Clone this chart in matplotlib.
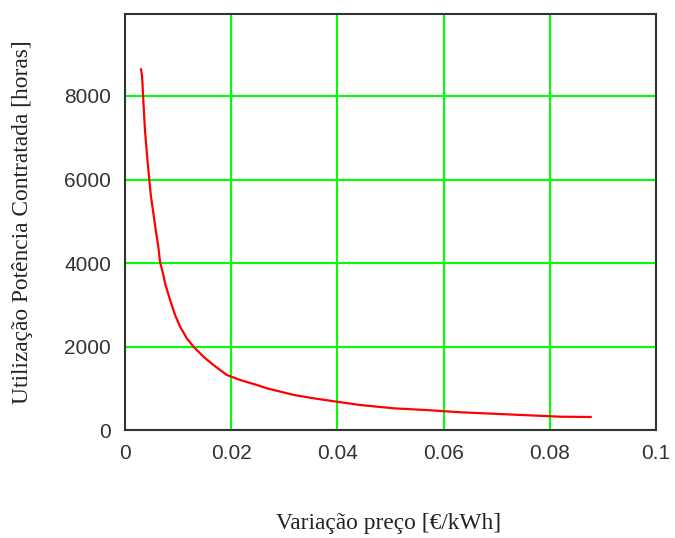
import matplotlib
matplotlib.use('Agg')
import matplotlib.pyplot as plt

# valores
variacao_preco = [0.00302, 0.00321, 0.00345, 0.00377, 0.00428, 0.00485, 0.00534, 0.00579,
                  0.00628, 0.0066, 0.00723, 0.00755, 0.00849, 0.00943, 0.01038, 0.01164,
                  0.0129, 0.01477, 0.01666, 0.01918, 0.0217, 0.02485, 0.02673, 0.0318,
                  0.0355, 0.0399, 0.0443, 0.0506, 0.0566, 0.0632, 0.0717, 0.0821, 0.0877]
utilizacao_horas = [8636, 8481, 7902, 7158, 6395, 5629, 5198, 4792,
                    4385, 4026, 3715, 3517, 3117, 2758, 2478, 2201,
                    2000, 1761, 1562, 1323, 1203, 1084, 1005, 845,
                    766, 684, 605, 526, 486, 431, 383, 325, 318]

x_ticks = [0, 0.02, 0.04, 0.06, 0.08, 0.1]
x_tick_labels = ['0', '0.02', '0.04', '0.06', '0.08', '0.1']
y_ticks = [0, 2000, 4000, 6000, 8000]

fig = plt.figure(figsize=(6.75, 5.38), dpi=100)
ax = fig.add_axes([125 / 675, 1 - 430.3 / 538, (656 - 125) / 675, (430.3 - 14) / 538])

ax.plot(variacao_preco, utilizacao_horas, color='#ff0000', linewidth=1.6, zorder=3)

ax.set_xlim(0, 0.1)
ax.set_ylim(0, 9960)
ax.set_xticks(x_ticks)
ax.set_xticklabels(x_tick_labels)
ax.set_yticks(y_ticks)
ax.grid(True, color='#00ff00', linewidth=1.5)
ax.tick_params(length=0, labelsize=15, pad=10)
for lbl in ax.get_xticklabels() + ax.get_yticklabels():
    lbl.set_family('Liberation Sans')
    lbl.set_color('#333333')
for s in ax.spines.values():
    s.set_color('#333333')
    s.set_linewidth(1.5)

fig.text(389 / 675, 1 - 523 / 538, 'Variação preço [€/kWh]', ha='center', va='center',
         family='Liberation Serif', fontsize=16.8, color='#222222')
fig.text(23 / 675, 1 - 222 / 538, 'Utilização Potência Contratada [horas]', ha='center', va='center',
         rotation=90, family='Liberation Serif', fontsize=16.8, color='#222222')

fig.savefig('out.png', dpi=100)
